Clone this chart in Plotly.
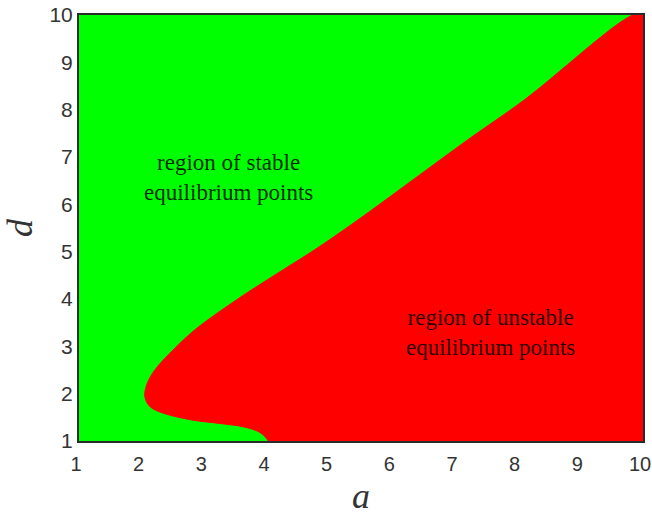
import plotly.graph_objects as go

# Stability boundary in the (a, d) parameter plane, traced from d = 1 up to d = 10
boundary_a = [4.02, 3.97, 3.86, 3.62, 3.25, 2.82, 2.34, 2.13, 2.05, 2.09, 2.21,
              2.50, 2.85, 3.28, 3.75, 4.26, 4.76, 5.45, 7.20, 8.11, 9.84]
boundary_d = [1.00, 1.09, 1.20, 1.30, 1.37, 1.44, 1.59, 1.73, 1.94, 2.22, 2.50,
              2.92, 3.35, 3.77, 4.19, 4.62, 5.04, 5.67, 7.36, 8.21, 10.00]

# Corners closing the unstable region on the right-hand side of the box
corner_a = [10.0, 10.0]
corner_d = [10.0, 1.0]

tick_vals = [1, 2, 3, 4, 5, 6, 7, 8, 9, 10]

stable_label = "region of stable<br>equilibrium points"
unstable_label = "region of unstable<br>equilibrium points"

fig = go.Figure()

fig.add_trace(go.Scatter(
    x=boundary_a + corner_a,
    y=boundary_d + corner_d,
    mode="lines",
    fill="toself",
    fillcolor="#ff0000",
    line=dict(color="#ff0000", width=1, shape="spline", smoothing=1.0),
    hoverinfo="skip",
    showlegend=False,
))

label_font = dict(family="Liberation Serif, Times New Roman, serif", size=23, color="rgba(0,0,0,0.85)")
fig.add_annotation(x=3.38, y=6.57, text=stable_label, showarrow=False, font=label_font, align="center")
fig.add_annotation(x=7.57, y=3.29, text=unstable_label, showarrow=False, font=label_font, align="center")

title_font = dict(family="Liberation Serif, Times New Roman, serif", size=36, color="#333333")

# x-axis title placed as paper annotation below the tick labels
fig.add_annotation(x=0.5, y=-0.13, xref="paper", yref="paper", text="<i>a</i>",
                   showarrow=False, font=title_font, xanchor="center", yanchor="middle")

axis_common = dict(
    range=[1, 10],
    tickvals=tick_vals,
    ticks="",
    showgrid=False,
    zeroline=False,
    showline=True,
    mirror=True,
    linecolor="#2b2b2b",
    linewidth=2,
    automargin=False,
    ticklabeloverflow="allow",
)

fig.update_xaxes(
    **axis_common,
    ticklabelstandoff=4,
    ticklabelshift=-3,
    tickfont=dict(family="Liberation Sans, Arial, sans-serif", size=20, color="#333333"),
)
fig.update_yaxes(
    **axis_common,
    tickfont=dict(family="Liberation Sans, Arial, sans-serif", size=21, color="#333333"),
    title=dict(text="<i>d</i>", font=title_font, standoff=14),
)

fig.update_layout(
    width=652,
    height=517,
    margin=dict(l=79, r=9, t=15, b=76),
    plot_bgcolor="#00ff00",
    paper_bgcolor="white",
)

fig.write_html("out.html")
